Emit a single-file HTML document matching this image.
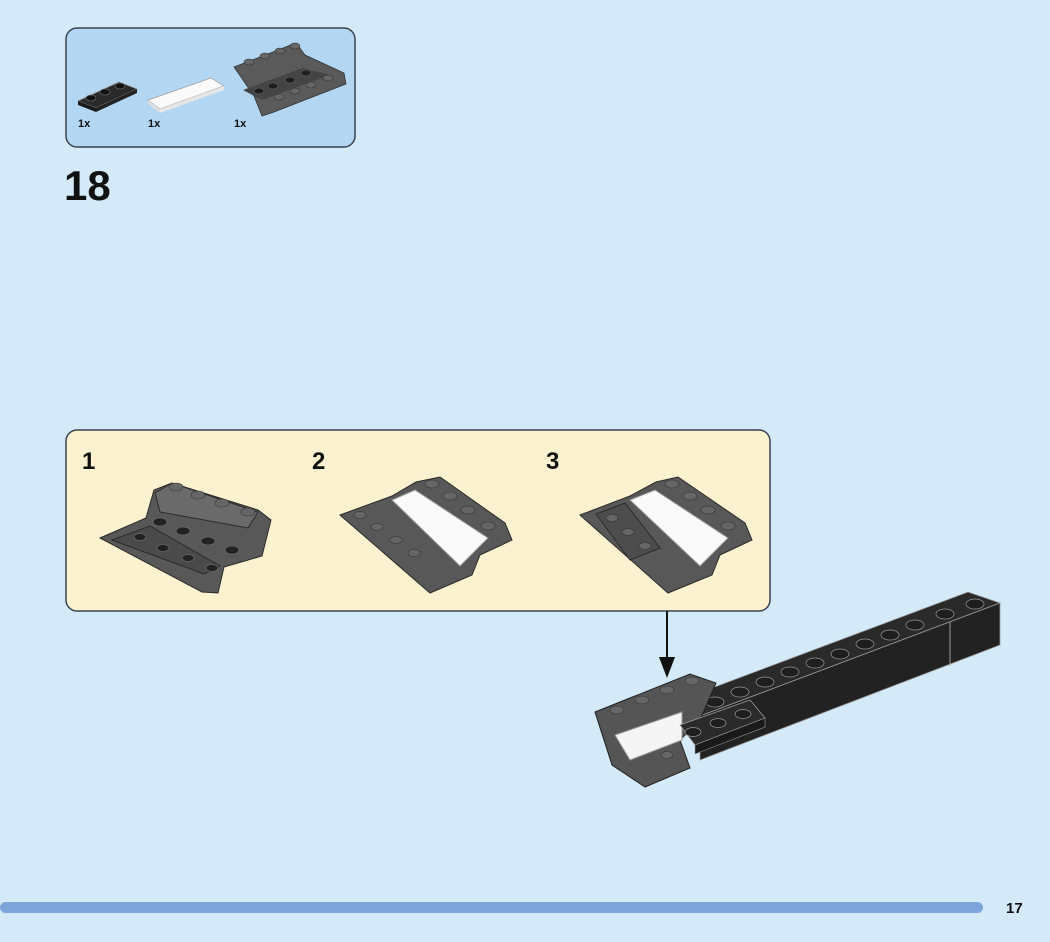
<!DOCTYPE html>
<html><head><style>
html,body{margin:0;padding:0;}
body{width:1050px;height:942px;background:#d4eaf9;position:relative;overflow:hidden;font-family:"Liberation Sans",sans-serif;}
.t{position:absolute;font-weight:bold;color:#111;}
</style></head><body>
<svg width="1050" height="942" style="position:absolute;left:0;top:0">
<!-- parts box -->
<rect x="66" y="28" width="289" height="119" rx="11" fill="#b3d7f3" stroke="#3a4350" stroke-width="1.5"/>
<!-- 1x3 plate -->
<polygon points="78,101 119,82 137,89 96,108" fill="#2a2a2a" stroke="#888" stroke-width=".7"/>
<polygon points="78,101 96,108 96,112 78,105" fill="#1a1a1a"/>
<polygon points="96,108 137,89 137,93 96,112" fill="#222"/>
<ellipse cx="91" cy="98" rx="5" ry="3" fill="#111" stroke="#777" stroke-width=".6"/>
<ellipse cx="105" cy="92" rx="5" ry="3" fill="#111" stroke="#777" stroke-width=".6"/>
<ellipse cx="120" cy="86" rx="5" ry="3" fill="#111" stroke="#777" stroke-width=".6"/>
<!-- white tile -->
<polygon points="148,100 211,78 224,86 160,109" fill="#fafafa" stroke="#999" stroke-width=".7"/>
<polygon points="148,100 160,109 160,113 148,104" fill="#ddd"/>
<polygon points="160,109 224,86 224,90 160,113" fill="#e6e6e6"/>
<!-- grey slope -->
<polygon points="234,67 296,43 305,55 344,73 346,84 274,112 262,116 254,96" fill="#5a5a5a" stroke="#333" stroke-width=".8"/>
<polygon points="243,90 303,68 330,75 262,100" fill="#444"/>
<g fill="#1e1e1e" stroke="#666" stroke-width=".6">
<ellipse cx="259" cy="91" rx="5" ry="3"/><ellipse cx="273" cy="86" rx="5" ry="3"/><ellipse cx="290" cy="80" rx="5" ry="3"/><ellipse cx="306" cy="73" rx="5" ry="3"/>
</g>
<g fill="#666" stroke="#333" stroke-width=".6">
<ellipse cx="249" cy="62" rx="5" ry="3"/><ellipse cx="265" cy="56" rx="5" ry="3"/><ellipse cx="280" cy="51" rx="5" ry="3"/><ellipse cx="295" cy="46" rx="5" ry="3"/>
<ellipse cx="279" cy="97" rx="5" ry="3"/><ellipse cx="295" cy="91" rx="5" ry="3"/><ellipse cx="311" cy="85" rx="5" ry="3"/><ellipse cx="328" cy="78" rx="5" ry="3"/>
</g>
<!-- yellow box -->
<rect x="66" y="430" width="704" height="181" rx="11" fill="#fdf2cf" stroke="#3a4350" stroke-width="1.5"/>
<!-- sub 1 -->
<g stroke="#2a2a2a" stroke-width="1">
<polygon points="100,538 146,518 154,490 172,483 258,510 271,520 262,556 224,567 218,593 202,592" fill="#585858"/>
<polygon points="155,493 172,483 258,512 248,528 160,512" fill="#6a6a6a"/>
<polygon points="112,540 204,574 220,566 150,526" fill="#4a4a4a"/>
</g>
<g fill="#222" stroke="#777" stroke-width=".6">
<ellipse cx="160" cy="522" rx="7" ry="4"/><ellipse cx="183" cy="531" rx="7" ry="4"/><ellipse cx="208" cy="541" rx="7" ry="4"/><ellipse cx="232" cy="550" rx="7" ry="4"/>
<ellipse cx="140" cy="537" rx="6" ry="3.5"/><ellipse cx="163" cy="548" rx="6" ry="3.5"/><ellipse cx="188" cy="558" rx="6" ry="3.5"/><ellipse cx="212" cy="568" rx="6" ry="3.5"/>
</g>
<g fill="#666" stroke="#333" stroke-width=".6">
<ellipse cx="176" cy="487" rx="7" ry="4"/><ellipse cx="198" cy="495" rx="7" ry="4"/><ellipse cx="222" cy="503" rx="7" ry="4"/><ellipse cx="248" cy="512" rx="7" ry="4"/>
</g>
<!-- sub 2 -->
<g stroke="#2a2a2a" stroke-width="1">
<polygon points="340,515 392,496 416,482 440,477 505,523 512,540 480,555 472,575 430,593" fill="#585858"/>
<polygon points="392,500 415,490 488,538 460,566" fill="#fafafa" stroke="#999"/>
</g>
<g fill="#666" stroke="#333" stroke-width=".6">
<ellipse cx="432" cy="484" rx="7" ry="4"/><ellipse cx="450" cy="496" rx="7" ry="4"/><ellipse cx="468" cy="510" rx="7" ry="4"/><ellipse cx="488" cy="526" rx="7" ry="4"/>
<ellipse cx="360" cy="515" rx="6" ry="3.5"/><ellipse cx="377" cy="527" rx="6" ry="3.5"/><ellipse cx="396" cy="540" rx="6" ry="3.5"/><ellipse cx="414" cy="553" rx="6" ry="3.5"/>
</g>
<!-- sub 3 -->
<g stroke="#2a2a2a" stroke-width="1">
<polygon points="580,515 630,496 656,482 678,477 745,523 752,540 720,555 712,575 668,593" fill="#585858"/>
<polygon points="630,500 655,490 728,538 700,566" fill="#fafafa" stroke="#999"/>
<polygon points="596,514 625,503 660,548 630,560" fill="#4d4d4d"/>
</g>
<g fill="#666" stroke="#333" stroke-width=".6">
<ellipse cx="672" cy="484" rx="7" ry="4"/><ellipse cx="690" cy="496" rx="7" ry="4"/><ellipse cx="708" cy="510" rx="7" ry="4"/><ellipse cx="728" cy="526" rx="7" ry="4"/>
<ellipse cx="612" cy="518" rx="6" ry="3.5"/><ellipse cx="628" cy="532" rx="6" ry="3.5"/><ellipse cx="645" cy="546" rx="6" ry="3.5"/>
</g>
<!-- arrow -->
<line x1="667" y1="611" x2="667" y2="660" stroke="#111" stroke-width="2"/>
<polygon points="659,657 675,657 667,678" fill="#111"/>
<!-- main beam -->
<polygon points="680,700 968,592 1000,603 700,716" fill="#2a2a2a" stroke="#999" stroke-width=".8"/>
<polygon points="700,716 1000,603 1000,645 700,760" fill="#222" stroke="#999" stroke-width=".8"/>
<line x1="950" y1="622" x2="950" y2="666" stroke="#999"/>
<g fill="#1e1e1e" stroke="#999" stroke-width=".7">
<ellipse cx="715" cy="702" rx="9" ry="5"/><ellipse cx="740" cy="692" rx="9" ry="5"/><ellipse cx="765" cy="682" rx="9" ry="5"/><ellipse cx="790" cy="672" rx="9" ry="5"/><ellipse cx="815" cy="663" rx="9" ry="5"/><ellipse cx="840" cy="654" rx="9" ry="5"/><ellipse cx="865" cy="644" rx="9" ry="5"/><ellipse cx="890" cy="635" rx="9" ry="5"/><ellipse cx="915" cy="625" rx="9" ry="5"/><ellipse cx="945" cy="614" rx="9" ry="5"/><ellipse cx="975" cy="604" rx="9" ry="5"/>
</g>
<!-- grey slope on model -->
<polygon points="595,712 690,674 716,683 700,720 680,740 690,768 645,787 612,765" fill="#555" stroke="#222" stroke-width="1"/>
<polygon points="615,735 682,712 682,740 630,760" fill="#f5f5f5" stroke="#999"/>
<g fill="#666" stroke="#333" stroke-width=".6">
<ellipse cx="617" cy="710" rx="7" ry="4"/><ellipse cx="642" cy="700" rx="7" ry="4"/><ellipse cx="667" cy="690" rx="7" ry="4"/><ellipse cx="692" cy="681" rx="7" ry="4"/><ellipse cx="667" cy="755" rx="6" ry="3.5"/>
</g>
<!-- black 2x3 plate -->
<polygon points="680,725 750,700 765,718 695,745" fill="#2a2a2a" stroke="#999" stroke-width=".8"/>
<polygon points="695,745 765,718 765,727 695,754" fill="#1a1a1a" stroke="#999" stroke-width=".6"/>
<g fill="#1e1e1e" stroke="#999" stroke-width=".7">
<ellipse cx="693" cy="732" rx="8" ry="4.5"/><ellipse cx="718" cy="723" rx="8" ry="4.5"/><ellipse cx="743" cy="714" rx="8" ry="4.5"/>
</g>
<!-- bottom bar -->
<rect x="0" y="902" width="983" height="11" rx="5.5" fill="#7ea4dc"/>
</svg>
<div class="t" style="left:78px;top:118px;font-size:11px;">1x</div>
<div class="t" style="left:148px;top:118px;font-size:11px;">1x</div>
<div class="t" style="left:234px;top:118px;font-size:11px;">1x</div>
<div class="t" style="left:64px;top:162px;font-size:42px;">18</div>
<div class="t" style="left:82px;top:448px;font-size:24px;">1</div>
<div class="t" style="left:312px;top:448px;font-size:24px;">2</div>
<div class="t" style="left:546px;top:448px;font-size:24px;">3</div>
<div class="t" style="left:1006px;top:900px;font-size:15px;">17</div>
</body></html>
